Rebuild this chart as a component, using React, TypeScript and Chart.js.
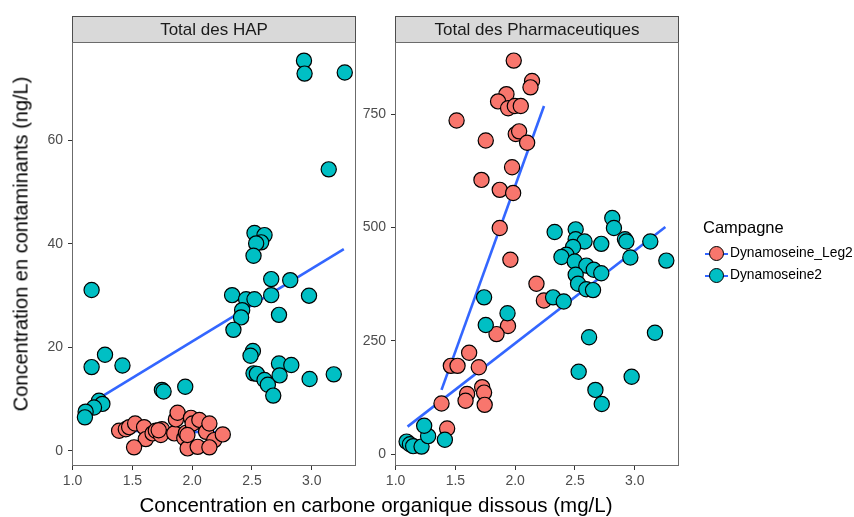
import React, { useEffect, useRef } from 'react';
import { Chart, registerables } from 'chart.js';

Chart.register(...registerables);

// ---------- data ----------
const xTicks = [1.0, 1.5, 2.0, 2.5, 3.0];
const hapYTicks = [0, 20, 40, 60];
const pharmaYTicks = [0, 250, 500, 750];

const panelTitles = ['Total des HAP', 'Total des Pharmaceutiques'];
const seriesNames = ['Dynamoseine_Leg2', 'Dynamoseine2'];
const legendTitle = 'Campagne';
const xTitle = 'Concentration en carbone organique dissous (mg/L)';
const yTitle = 'Concentration en contaminants (ng/L)';

// Total des HAP
const hapLeg2X = [1.389, 1.445, 1.473, 1.523, 1.598, 1.612, 1.514, 1.669, 1.696, 1.747, 1.738, 1.85, 1.864, 1.878, 1.934, 1.948, 1.99, 2.004, 2.06, 1.962, 2.046, 2.116, 2.144, 2.185, 2.256, 2.144, 1.96, 1.72];
const hapLeg2Y = [3.9, 4.2, 4.6, 5.3, 4.6, 2.3, 0.7, 3.4, 3.9, 4.2, 3.1, 3.4, 6.1, 7.4, 2.5, 3.5, 6.4, 5.3, 6.0, 0.5, 0.8, 3.7, 5.3, 2.1, 3.2, 0.7, 3.1, 4.0];
const hapDyn2X = [2.935, 2.94, 3.276, 3.142, 2.521, 2.605, 2.577, 2.535, 2.513, 2.661, 2.82, 2.977, 2.334, 2.451, 2.521, 2.661, 2.418, 2.409, 2.726, 2.345, 2.508, 2.488, 2.726, 2.829, 2.513, 2.541, 2.731, 2.605, 2.633, 2.678, 2.982, 3.184, 1.159, 1.271, 1.159, 1.417, 1.747, 1.761, 1.942, 1.221, 1.249, 1.179, 1.109, 1.103];
const hapDyn2Y = [75.4, 72.9, 73.1, 54.4, 42.1, 41.7, 40.3, 40.1, 37.7, 33.2, 33.0, 30.0, 30.1, 29.3, 29.3, 30.1, 27.2, 25.8, 26.3, 23.4, 19.3, 18.4, 16.9, 16.6, 15.0, 14.9, 14.6, 13.7, 12.8, 10.7, 13.9, 14.8, 31.1, 18.6, 16.2, 16.5, 11.8, 11.5, 12.4, 9.7, 9.1, 8.4, 7.6, 6.5];
const hapLeg2FitX = [1.384, 2.256];
const hapLeg2FitY = [3.9, 3.6];
const hapDyn2FitX = [1.109, 3.268];
const hapDyn2FitY = [8.6, 39.0];

// Total des Pharmaceutiques
const phLeg2X = [1.988, 2.141, 2.128, 1.927, 1.857, 1.941, 1.997, 2.047, 1.51, 2.005, 2.033, 2.1, 1.754, 1.974, 1.718, 1.871, 1.983, 1.871, 1.96, 2.178, 2.24, 1.94, 1.844, 1.615, 1.462, 1.518, 1.696, 1.724, 1.74, 1.598, 1.585, 1.745, 1.384, 1.431];
const phLeg2Y = [868, 823, 809, 794, 778, 763, 768, 768, 736, 706, 712, 687, 692, 633, 605, 583, 576, 499, 429, 376, 339, 283, 265, 224, 195, 195, 192, 148, 136, 133, 118, 109, 112, 57];
const phDyn2X = [1.74, 1.936, 1.754, 2.317, 2.406, 2.618, 3.169, 2.531, 2.974, 2.671, 2.724, 3.264, 2.963, 1.092, 1.12, 1.147, 1.217, 1.272, 1.239, 1.412, 2.33, 2.506, 2.506, 2.58, 2.72, 2.812, 2.826, 2.918, 2.93, 3.13, 2.484, 2.428, 2.387, 2.498, 2.595, 2.657, 2.72, 2.506, 2.526, 2.595, 2.651];
const phDyn2Y = [346, 311, 285, 346, 337, 258, 268, 182, 171, 142, 111, 427, 434, 28, 22, 18, 17, 40, 63, 32, 490, 496, 474, 469, 464, 521, 499, 474, 469, 469, 457, 440, 435, 425, 416, 407, 399, 396, 376, 364, 362];
const phLeg2FitX = [1.384, 2.241];
const phLeg2FitY = [142, 768];
const phDyn2FitX = [1.1, 3.256];
const phDyn2FitY = [61, 501];

// ---------- styles ----------
const RED = '#F8766D';
const TEAL = '#00BFC4';
const FIT = '#3366FF';
const FONT = '"Liberation Sans", Arial, sans-serif';
const W = 854;
const H = 517;

const pts = (xs: number[], ys: number[]) => xs.map((x, i) => ({ x, y: ys[i] }));

const stripPlugin = {
  id: 'strip',
  afterDraw(chart: any) {
    const { ctx, chartArea } = chart;
    const title = chart.options.plugins.strip.title;
    ctx.save();
    ctx.fillStyle = '#D9D9D9';
    ctx.fillRect(chartArea.left, 16, chartArea.right - chartArea.left, chartArea.top - 16);
    ctx.strokeStyle = '#4d4d4d';
    ctx.lineWidth = 1;
    ctx.strokeRect(chartArea.left + 0.5, 16.5, chartArea.right - chartArea.left - 1, chartArea.top - 16);
    ctx.strokeStyle = '#6b6b6b';
    ctx.strokeRect(chartArea.left + 0.5, chartArea.top + 0.5, chartArea.right - chartArea.left - 1, chartArea.bottom - chartArea.top - 1);
    ctx.fillStyle = '#1A1A1A';
    ctx.font = `17px ${FONT}`;
    ctx.textAlign = 'center';
    ctx.textBaseline = 'middle';
    ctx.fillText(title, (chartArea.left + chartArea.right) / 2, (16 + chartArea.top) / 2 + 1);
    ctx.restore();
  },
};

function makeConfig(opts: {
  title: string;
  yTicks: number[];
  yMin: number;
  yMax: number;
  yWidth: number;
  padLeft: number;
  padRight: number;
  leg2: { x: number; y: number }[];
  dyn2: { x: number; y: number }[];
  leg2Fit: { x: number; y: number }[];
  dyn2Fit: { x: number; y: number }[];
}): any {
  const pointDs = (label: string, data: any[], color: string, order: number) => ({
    type: 'scatter',
    label,
    data,
    backgroundColor: color,
    borderColor: '#000000',
    borderWidth: 1.2,
    pointRadius: 7.6,
    pointHoverRadius: 7.6,
    order,
  });
  const lineDs = (label: string, data: any[]) => ({
    type: 'line',
    label,
    data,
    borderColor: FIT,
    borderWidth: 2.6,
    pointRadius: 0,
    fill: false,
    tension: 0,
    order: 5,
  });
  return {
    type: 'scatter',
    data: {
      datasets: [
        lineDs('fit1', opts.leg2Fit),
        lineDs('fit2', opts.dyn2Fit),
        pointDs(seriesNames[0], opts.leg2, RED, 2),
        pointDs(seriesNames[1], opts.dyn2, TEAL, 1),
      ],
    },
    options: {
      responsive: false,
      animation: false,
      events: [],
      layout: { padding: { left: opts.padLeft, right: opts.padRight, top: 42, bottom: 21 } },
      plugins: {
        legend: { display: false },
        tooltip: { enabled: false },
        strip: { title: opts.title },
      },
      scales: {
        x: {
          type: 'linear',
          min: 0.995,
          max: 3.37,
          afterBuildTicks: (s: any) => {
            s.ticks = xTicks.map((v) => ({ value: v }));
          },
          afterFit: (s: any) => {
            s.height = 30;
          },
          ticks: {
            callback: (v: any) => Number(v).toFixed(1),
            color: '#4D4D4D',
            font: { family: FONT, size: 14 },
            padding: 3,
            maxRotation: 0,
          },
          grid: { display: true, drawOnChartArea: false, drawTicks: true, tickLength: 4, color: '#333333', tickColor: '#333333' },
          border: { display: false },
        },
        y: {
          type: 'linear',
          min: opts.yMin,
          max: opts.yMax,
          afterBuildTicks: (s: any) => {
            s.ticks = opts.yTicks.map((v) => ({ value: v }));
          },
          afterFit: (s: any) => {
            s.width = opts.yWidth;
          },
          ticks: {
            callback: (v: any) => String(v),
            color: '#4D4D4D',
            font: { family: FONT, size: 14 },
            padding: 5,
          },
          grid: { display: true, drawOnChartArea: false, drawTicks: true, tickLength: 4, color: '#333333', tickColor: '#333333' },
          border: { display: false },
        },
      },
    },
    plugins: [stripPlugin],
  };
}

export default function App() {
  const hapRef = useRef<HTMLCanvasElement>(null);
  const phRef = useRef<HTMLCanvasElement>(null);

  useEffect(() => {
    const c1 = new Chart(
      hapRef.current as HTMLCanvasElement,
      makeConfig({
        title: panelTitles[0],
        yTicks: hapYTicks,
        yMin: -2.9,
        yMax: 79.0,
        yWidth: 72,
        padLeft: 0,
        padRight: W - 356,
        leg2: pts(hapLeg2X, hapLeg2Y),
        dyn2: pts(hapDyn2X, hapDyn2Y),
        leg2Fit: pts(hapLeg2FitX, hapLeg2FitY),
        dyn2Fit: pts(hapDyn2FitX, hapDyn2FitY),
      })
    );
    const c2 = new Chart(
      phRef.current as HTMLCanvasElement,
      makeConfig({
        title: panelTitles[1],
        yTicks: pharmaYTicks,
        yMin: -25.8,
        yMax: 909,
        yWidth: 35,
        padLeft: 360,
        padRight: W - 679,
        leg2: pts(phLeg2X, phLeg2Y),
        dyn2: pts(phDyn2X, phDyn2Y),
        leg2Fit: pts(phLeg2FitX, phLeg2FitY),
        dyn2Fit: pts(phDyn2FitX, phDyn2FitY),
      })
    );
    return () => {
      c1.destroy();
      c2.destroy();
    };
  }, []);

  const keyStyle = (color: string): React.CSSProperties => ({
    position: 'absolute',
    left: 8,
    top: 3,
    width: 15,
    height: 15,
    borderRadius: '50%',
    background: color,
    border: '1.2px solid #000',
    boxSizing: 'border-box',
  });

  return (
    <div style={{ position: 'fixed', left: 0, top: 0, width: W, height: H, background: '#fff', fontFamily: FONT, overflow: 'hidden' }}>
      <canvas ref={hapRef} width={W} height={H} style={{ position: 'absolute', left: 0, top: 0, width: W, height: H }} />
      <canvas ref={phRef} width={W} height={H} style={{ position: 'absolute', left: 0, top: 0, width: W, height: H }} />
      <div
        style={{
          position: 'absolute',
          left: 21,
          top: 244,
          transform: 'translate(-50%, -50%) rotate(-90deg)',
          whiteSpace: 'nowrap',
          fontSize: 20,
          color: '#000',
        }}
      >
        {yTitle}
      </div>
      <div
        style={{
          position: 'absolute',
          left: 376,
          top: 505,
          transform: 'translate(-50%, -50%)',
          whiteSpace: 'nowrap',
          fontSize: 20.5,
          color: '#000',
        }}
      >
        {xTitle}
      </div>
      <div style={{ position: 'absolute', left: 703, top: 217, fontSize: 16.5, color: '#000', lineHeight: '20px' }}>{legendTitle}</div>
      {seriesNames.map((name, i) => (
        <div key={name} style={{ position: 'absolute', left: 701, top: 243 + i * 22, height: 20, width: 160 }}>
          <div style={{ position: 'absolute', left: 4, top: 9.5, width: 23, height: 2.6, background: FIT }} />
          <div style={keyStyle(i === 0 ? RED : TEAL)} />
          <div style={{ position: 'absolute', left: 29, top: 1, fontSize: 13.8, lineHeight: '18px', color: '#000', whiteSpace: 'nowrap' }}>{name}</div>
        </div>
      ))}
    </div>
  );
}
